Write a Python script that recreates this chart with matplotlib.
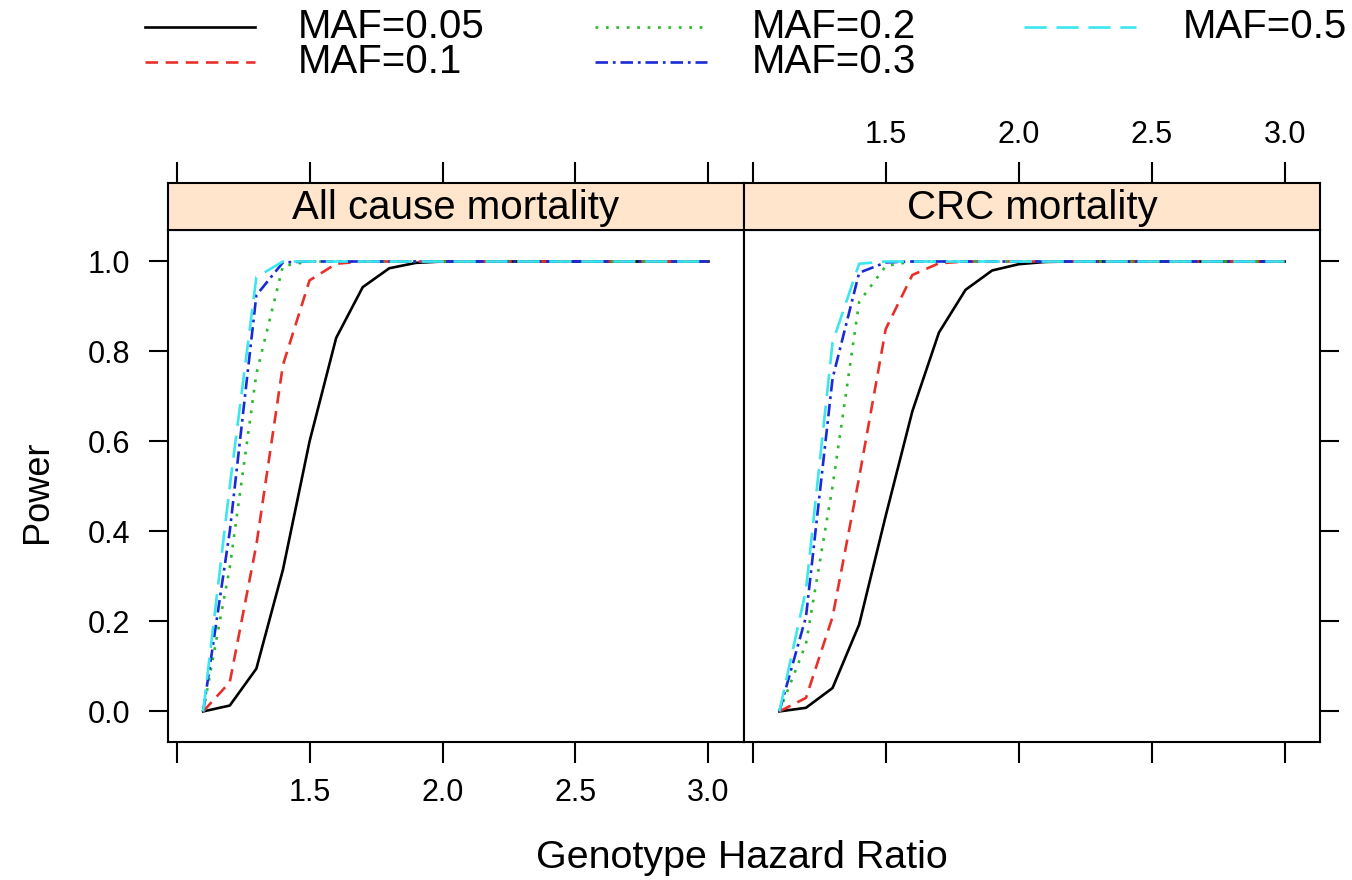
import matplotlib
matplotlib.use("Agg")
import matplotlib.pyplot as plt
from matplotlib.lines import Line2D

plt.rcParams['font.family'] = ['Liberation Sans', 'DejaVu Sans']
plt.rcParams['lines.scale_dashes'] = False

hazard_ratio = [1.1, 1.2, 1.3, 1.4, 1.5, 1.6, 1.7, 1.8, 1.9, 2.0,
                2.1, 2.2, 2.3, 2.4, 2.5, 2.6, 2.7, 2.8, 2.9, 3.0]

maf_labels = ["MAF=0.05", "MAF=0.1", "MAF=0.2", "MAF=0.3", "MAF=0.5"]
panel_titles = ["All cause mortality", "CRC mortality"]

# power, all cause mortality
all_maf05 = [0.0, 0.013, 0.095, 0.315, 0.60, 0.83, 0.943, 0.985, 0.997, 1.0,
             1.0, 1.0, 1.0, 1.0, 1.0, 1.0, 1.0, 1.0, 1.0, 1.0]
all_maf1 = [0.0, 0.065, 0.37, 0.77, 0.958, 0.995, 1.0, 1.0, 1.0, 1.0,
            1.0, 1.0, 1.0, 1.0, 1.0, 1.0, 1.0, 1.0, 1.0, 1.0]
all_maf2 = [0.0, 0.32, 0.75, 0.99, 1.0, 1.0, 1.0, 1.0, 1.0, 1.0,
            1.0, 1.0, 1.0, 1.0, 1.0, 1.0, 1.0, 1.0, 1.0, 1.0]
all_maf3 = [0.0, 0.40, 0.925, 0.998, 1.0, 1.0, 1.0, 1.0, 1.0, 1.0,
            1.0, 1.0, 1.0, 1.0, 1.0, 1.0, 1.0, 1.0, 1.0, 1.0]
all_maf5 = [0.0, 0.50, 0.965, 1.0, 1.0, 1.0, 1.0, 1.0, 1.0, 1.0,
            1.0, 1.0, 1.0, 1.0, 1.0, 1.0, 1.0, 1.0, 1.0, 1.0]

# power, CRC mortality
crc_maf05 = [0.0, 0.008, 0.052, 0.193, 0.435, 0.667, 0.842, 0.937, 0.98, 0.994,
             0.999, 1.0, 1.0, 1.0, 1.0, 1.0, 1.0, 1.0, 1.0, 1.0]
crc_maf1 = [0.0, 0.03, 0.21, 0.52, 0.85, 0.97, 0.996, 1.0, 1.0, 1.0,
            1.0, 1.0, 1.0, 1.0, 1.0, 1.0, 1.0, 1.0, 1.0, 1.0]
crc_maf2 = [0.0, 0.15, 0.50, 0.91, 0.99, 1.0, 1.0, 1.0, 1.0, 1.0,
            1.0, 1.0, 1.0, 1.0, 1.0, 1.0, 1.0, 1.0, 1.0, 1.0]
crc_maf3 = [0.0, 0.21, 0.74, 0.975, 0.998, 1.0, 1.0, 1.0, 1.0, 1.0,
            1.0, 1.0, 1.0, 1.0, 1.0, 1.0, 1.0, 1.0, 1.0, 1.0]
crc_maf5 = [0.0, 0.27, 0.82, 0.995, 1.0, 1.0, 1.0, 1.0, 1.0, 1.0,
            1.0, 1.0, 1.0, 1.0, 1.0, 1.0, 1.0, 1.0, 1.0, 1.0]

x_ticks = [1.0, 1.5, 2.0, 2.5, 3.0]
x_tick_labels = ["", "1.5", "2.0", "2.5", "3.0"]
y_ticks = [0.0, 0.2, 0.4, 0.6, 0.8, 1.0]
y_tick_labels = ["0.0", "0.2", "0.4", "0.6", "0.8", "1.0"]

colors = ["black", "#e8302a", "#2db82d", "#1a2bd6", "#3ce6ee"]
dashes = [None, (9, 5.5), (2, 5.5), (9, 3.5, 2, 3.5), (16, 7)]
LW = 1.9
TICK_FS = 22
BIG_FS = 29

W, H = 1352, 880
fig = plt.figure(figsize=(W / 100, H / 100), dpi=100)

panel_left = [167.8, 744.0]
panel_w = 576.0
data_top, data_bot = 230.0, 742.0
strip_top = 183.0

series = [[all_maf05, all_maf1, all_maf2, all_maf3, all_maf5],
          [crc_maf05, crc_maf1, crc_maf2, crc_maf3, crc_maf5]]

xlim = (0.967, 3.133)
ylim = (-0.068, 1.07)

for p in range(2):
    x0 = panel_left[p] / W
    ax = fig.add_axes([x0, 1 - data_bot / H, panel_w / W, (data_bot - data_top) / H])
    st = fig.add_axes([x0, 1 - data_top / H, panel_w / W, (data_top - strip_top) / H])

    for i in range(5):
        line, = ax.plot(hazard_ratio, series[p][i], color=colors[i], lw=LW)
        if dashes[i] is not None:
            line.set_dashes(dashes[i])

    ax.set_xlim(xlim)
    ax.set_ylim(ylim)
    st.set_xlim(xlim)
    st.set_ylim(0, 1)
    st.set_facecolor("#ffe5cc")
    st.text(0.5, 0.47, panel_titles[p], transform=st.transAxes,
            ha="center", va="center", fontsize=BIG_FS)

    for a in (ax, st):
        for s in a.spines.values():
            s.set_linewidth(1.5)

    ax.set_xticks(x_ticks)
    ax.set_yticks(y_ticks)
    st.set_xticks(x_ticks)
    st.set_yticks([])
    ax.tick_params(axis="x", direction="out", length=15, width=1.5, pad=11, labelsize=TICK_FS)
    ax.tick_params(axis="y", direction="out", length=14, width=1.5, pad=13, labelsize=TICK_FS)
    st.tick_params(axis="x", direction="out", length=15, width=1.5, pad=9, labelsize=TICK_FS)

    if p == 0:
        ax.set_xticklabels(x_tick_labels)
        ax.set_yticklabels(y_tick_labels)
        ax.tick_params(top=False, right=False, left=True, bottom=True)
        st.tick_params(axis="x", top=True, bottom=False, labeltop=False, labelbottom=False)
    else:
        ax.tick_params(axis="x", bottom=True, labelbottom=False)
        ax.tick_params(axis="y", left=False, labelleft=False, right=True, labelright=False)
        st.tick_params(axis="x", top=True, bottom=False, labeltop=True, labelbottom=False)
        st.set_xticklabels(x_tick_labels)

fig.text(742 / W, 1 - 858 / H, "Genotype Hazard Ratio", ha="center", va="center", fontsize=28.4)
fig.text(37 / W, 1 - 492 / H, "Power", ha="center", va="center", rotation=90, fontsize=26)

# legend, 3 columns filled top to bottom
line_x = [(145, 255), (595, 707), (1024, 1136)]
text_x = [298, 752, 1183]
row_y = [27, 62]
for i, lab in enumerate(maf_labels):
    c, r = i // 2, i % 2
    yy = 1 - row_y[r] / H
    leg = Line2D([line_x[c][0] / W, line_x[c][1] / W], [yy, yy], transform=fig.transFigure,
                 color=colors[i], lw=LW)
    if dashes[i] is not None:
        leg.set_dashes(dashes[i])
    fig.add_artist(leg)
    fig.text(text_x[c] / W, yy, lab, ha="left", va="center", fontsize=BIG_FS)

fig.savefig("out.png", dpi=100)
